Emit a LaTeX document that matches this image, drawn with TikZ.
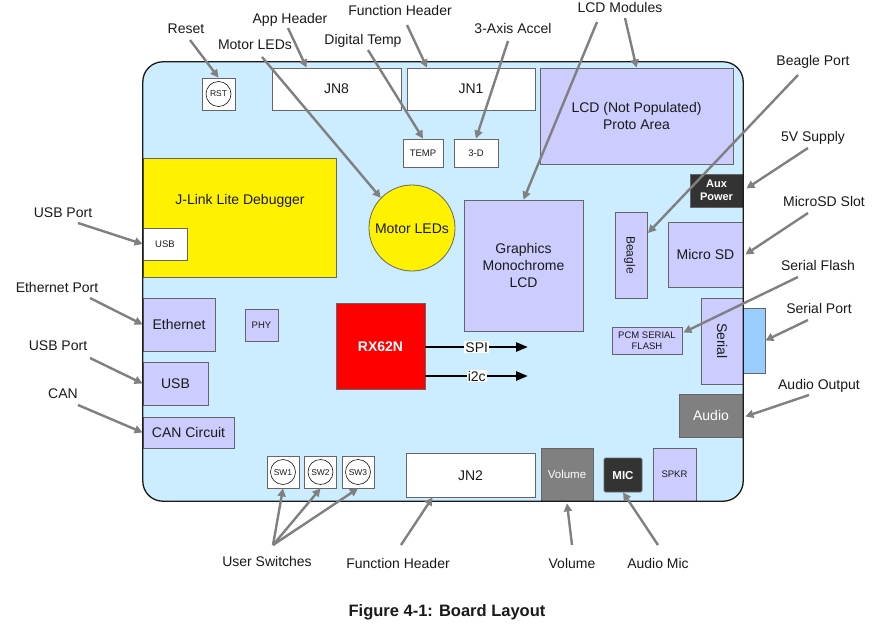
\documentclass[tikz,border=0pt]{standalone}
\usepackage{fontspec}
\setmainfont{Liberation Sans}
\usetikzlibrary{arrows.meta}
\definecolor{board}{HTML}{CCECFF}
\definecolor{lav}{HTML}{CCCCFF}
\definecolor{portblue}{HTML}{99CCFF}
\definecolor{midgray}{HTML}{808080}
\definecolor{darkbox}{HTML}{333333}
\definecolor{arrgray}{HTML}{808080}
\definecolor{edge}{HTML}{666666}
\definecolor{txt}{HTML}{1A1A1A}
\begin{document}
\begin{tikzpicture}[x=1pt,y=-1pt,
  lbl/.style={font=\fontsize{14}{17}\selectfont, text=txt, inner sep=1pt, text height=10pt, text depth=0pt},
  box/.style={draw=edge, line width=0.8pt, inner sep=0pt, font=\fontsize{14}{17}\selectfont, text=txt},
  onel/.style={text height=10pt, text depth=0pt},
  ones/.style={font=\fontsize{9.5}{10.5}\selectfont, text height=6.8pt, text depth=0pt},
  whitebox/.style={box, fill=white},
  lavbox/.style={box, fill=lav},
  graybox/.style={box, fill=midgray, text=white},
  darkbx/.style={box, fill=darkbox, text=white, font=\fontsize{11}{13}\selectfont\bfseries},
  swcirc/.style={circle, draw=txt, line width=0.6pt, minimum size=25pt, inner sep=0pt, font=\fontsize{8.5}{10}\selectfont, text=txt, text height=6pt, text depth=0pt},
  arr/.style={draw=arrgray, line width=2.4pt, -{Triangle[length=8pt,width=8pt]}},
  bus/.style={draw=black, line width=2.6pt, -{Triangle[length=12pt,width=9pt]}},
  buslbl/.style={fill=white, inner sep=1pt, font=\fontsize{14}{17}\selectfont, text=txt, text height=10pt, text depth=0pt}
]
\useasboundingbox (0,0) rectangle (887,626);
\fill[white] (0,0) rectangle (887,626);

% board
\node[fill=board, rounded corners=20pt, minimum width=600pt, minimum height=439pt, inner sep=0pt] (brd) at (443,281.5) {};

% top row
\node[whitebox, minimum width=33pt, minimum height=32pt] (rst) at (218.5,94) {};
\node[swcirc] (rstc) at (rst.center) {RST};
\node[whitebox, onel, minimum width=129pt, minimum height=42pt] (jn8) at (336.5,89) {JN8};
\node[whitebox, onel, minimum width=128pt, minimum height=42pt] (jn1) at (471,89) {JN1};
\node[lavbox, align=center, minimum width=193pt, minimum height=96pt] (proto) at (636.5,116) {LCD (Not Populated)\\Proto Area};
\node[whitebox, ones, minimum width=40pt, minimum height=28pt] (temp) at (423,153) {TEMP};
\node[whitebox, ones, minimum width=44pt, minimum height=28pt] (acc) at (476,153) {3-D};
\node[darkbx, align=center, minimum width=53pt, minimum height=33pt] (aux) at (716.5,190.5) {Aux\\Power};

% left side
\node[box, fill=yellow, minimum width=193pt, minimum height=119pt] (jlink) at (239.5,217.5) {};
\node[lbl] (jlinkt) at (240,199) {J-Link Lite Debugger};
\node[whitebox, ones, minimum width=44pt, minimum height=32pt] (usbs) at (165,244) {USB};
\node[circle, draw=edge, line width=0.8pt, fill=yellow, minimum size=86pt, inner sep=0pt, font=\fontsize{14}{17}\selectfont, text=txt, onel] (motor) at (412,228) {Motor LEDs};
\node[lavbox, onel, minimum width=72pt, minimum height=53pt] (eth) at (179,324.5) {Ethernet};
\node[lavbox, ones, minimum width=33pt, minimum height=32pt] (phy) at (261.5,325) {PHY};
\node[lavbox, onel, minimum width=65pt, minimum height=43pt] (usb) at (175.5,383.5) {USB};
\node[lavbox, onel, minimum width=91pt, minimum height=31pt] (can) at (188.5,432.5) {CAN Circuit};
\node[box, fill=red, text=white, font=\fontsize{14}{17}\selectfont\bfseries, onel, minimum width=89pt, minimum height=86pt] (rx) at (380.5,346) {RX62N};

% middle / right
\node[lavbox, align=center, minimum width=119pt, minimum height=131pt] (glcd) at (523.5,265.5) {Graphics\\Monochrome\\LCD};
\node[lavbox, font=\fontsize{12}{14}\selectfont, text height=8.6pt, text depth=0pt, rotate=-90, minimum width=86pt, minimum height=32pt] (beagle) at (631,255) {Beagle};
\node[lavbox, onel, minimum width=75pt, minimum height=65pt] (sd) at (705.5,254.5) {Micro SD};
\node[lavbox, onel, rotate=-90, minimum width=86pt, minimum height=42pt] (serial) at (722,341) {Serial};
\node[box, fill=portblue, minimum width=22pt, minimum height=65pt] (sport) at (754,340.5) {};
\node[lavbox, font=\fontsize{9.5}{10.5}\selectfont, align=center, minimum width=70pt, minimum height=27pt] (pcm) at (647,340.5) {PCM SERIAL\\FLASH};
\node[graybox, onel, minimum width=64pt, minimum height=43pt] (audio) at (711,415.5) {Audio};

% bottom row
\node[whitebox, minimum width=32pt, minimum height=32pt] (sw1) at (283,472) {};
\node[swcirc] (sw1c) at (sw1.center) {SW1};
\node[whitebox, minimum width=32pt, minimum height=32pt] (sw2) at (320.5,472) {};
\node[swcirc] (sw2c) at (sw2.center) {SW2};
\node[whitebox, minimum width=32pt, minimum height=32pt] (sw3) at (358,472) {};
\node[swcirc] (sw3c) at (sw3.center) {SW3};
\node[whitebox, onel, minimum width=129pt, minimum height=44pt] (jn2) at (470.5,475) {JN2};
\node[graybox, font=\fontsize{11.5}{13}\selectfont, text height=8.2pt, text depth=0pt, minimum width=52pt, minimum height=53pt] (vol) at (567,474.5) {Volume};
\node[darkbx, rounded corners=1.5pt, font=\fontsize{11.5}{13}\selectfont\bfseries, text height=8.2pt, text depth=0pt, minimum width=38pt, minimum height=34pt] (mic) at (623,475) {MIC};
\node[lavbox, ones, minimum width=43pt, minimum height=53pt] (spkr) at (674.5,474.5) {SPKR};

% board outline on top
\draw[line width=1.3pt, draw=txt, rounded corners=20pt] (brd.north west) rectangle (brd.south east);

% buses
\coordinate (spiend) at (528,347);
\coordinate (i2cend) at (528,376);
\draw[bus] ([shift={(0,1)}]rx.east) -- node[buslbl] (spi) {SPI} (spiend);
\draw[bus] ([shift={(0,30)}]rx.east) -- node[buslbl] (i2c) {i2c} (i2cend);

% outside labels
\node[lbl] (lreset) at (186,29) {Reset};
\node[lbl] (lapp) at (290,19) {App Header};
\node[lbl] (lmotor) at (255,45) {Motor LEDs};
\node[lbl] (lfht) at (400,11) {Function Header};
\node[lbl] (ltemp) at (363,40) {Digital Temp};
\node[lbl] (lacc) at (513,29) {3-Axis Accel};
\node[lbl] (llcd) at (620,8) {LCD Modules};
\node[lbl] (lbeagle) at (813,61) {Beagle Port};
\node[lbl] (l5v) at (813,137) {5V Supply};
\node[lbl] (lsd) at (824,201) {MicroSD Slot};
\node[lbl] (lflash) at (818,265) {Serial Flash};
\node[lbl] (lsport) at (819,308) {Serial Port};
\node[lbl] (laudio) at (819,384) {Audio Output};
\node[lbl] (lusb1) at (63,212) {USB Port};
\node[lbl] (leth) at (57,287) {Ethernet Port};
\node[lbl] (lusb2) at (58,345) {USB Port};
\node[lbl] (lcan) at (63,393) {CAN};
\node[lbl] (lsw) at (267,561) {User Switches};
\node[lbl] (lfhb) at (398,563) {Function Header};
\node[lbl] (lvol) at (572,563) {Volume};
\node[lbl] (lmic) at (658,563) {Audio Mic};

% arrows
\draw[arr] ([shift={(4,11)}]lreset.center) -- (rst.north);
\draw[arr] ([shift={(-2,9)}]lapp.center) -- ([shift={(-30,0)}]jn8.north);
\draw[arr] ([shift={(7,12)}]lmotor.center) -- (motor.136);
\draw[arr] ([shift={(7,14)}]lfht.center) -- ([shift={(-44,0)}]jn1.north);
\draw[arr] ([shift={(5,10)}]ltemp.center) -- (temp.north);
\draw[arr] ([shift={(-5,12)}]lacc.center) -- (acc.north);
\draw[arr] ([shift={(-23,14)}]llcd.center) -- (glcd.north);
\draw[arr] ([shift={(5,10)}]llcd.center) -- (proto.north);
\draw[arr] ([shift={(-15,14)}]lbeagle.center) -- ([shift={(17,-22)}]beagle.center);
\draw[arr] ([shift={(-5,11)}]l5v.center) -- ([shift={(3,-2)}]aux.east);
\draw[arr] ([shift={(-16,12)}]lsd.center) -- ([shift={(2,0)}]sd.east);
\draw[arr] ([shift={(-20,12)}]lflash.center) -- ([shift={(1,-8)}]pcm.east);
\draw[arr] ([shift={(-11,12)}]lsport.center) -- (sport.east);
\draw[arr] ([shift={(-10,11)}]laudio.center) -- ([shift={(2,1)}]audio.east);
\draw[arr] ([shift={(15,11)}]lusb1.center) -- (usbs.west);
\draw[arr] ([shift={(33,11)}]leth.center) -- (eth.west);
\draw[arr] ([shift={(32,13)}]lusb2.center) -- (usb.west);
\draw[arr] ([shift={(15,12)}]lcan.center) -- (can.west);
\draw[arr] ([shift={(6,-16)}]lsw.center) -- (sw1.south);
\draw[arr] ([shift={(6,-16)}]lsw.center) -- (sw2.south);
\draw[arr] ([shift={(6,-16)}]lsw.center) -- (sw3.south);
\draw[arr] ([shift={(3,-18)}]lfhb.center) -- ([shift={(-38,0)}]jn2.south);
\draw[arr] ([shift={(0,-18)}]lvol.center) -- ([shift={(0,2)}]vol.south);
\draw[arr] ([shift={(0,-18)}]lmic.center) -- (mic.south);

% caption
\node[font=\fontsize{16.5}{20}\selectfont\bfseries, text=txt, text height=11.8pt, text depth=0pt, inner sep=0pt] (cap) at (447,611) {Figure 4-1: Board Layout};
\end{tikzpicture}
\end{document}
